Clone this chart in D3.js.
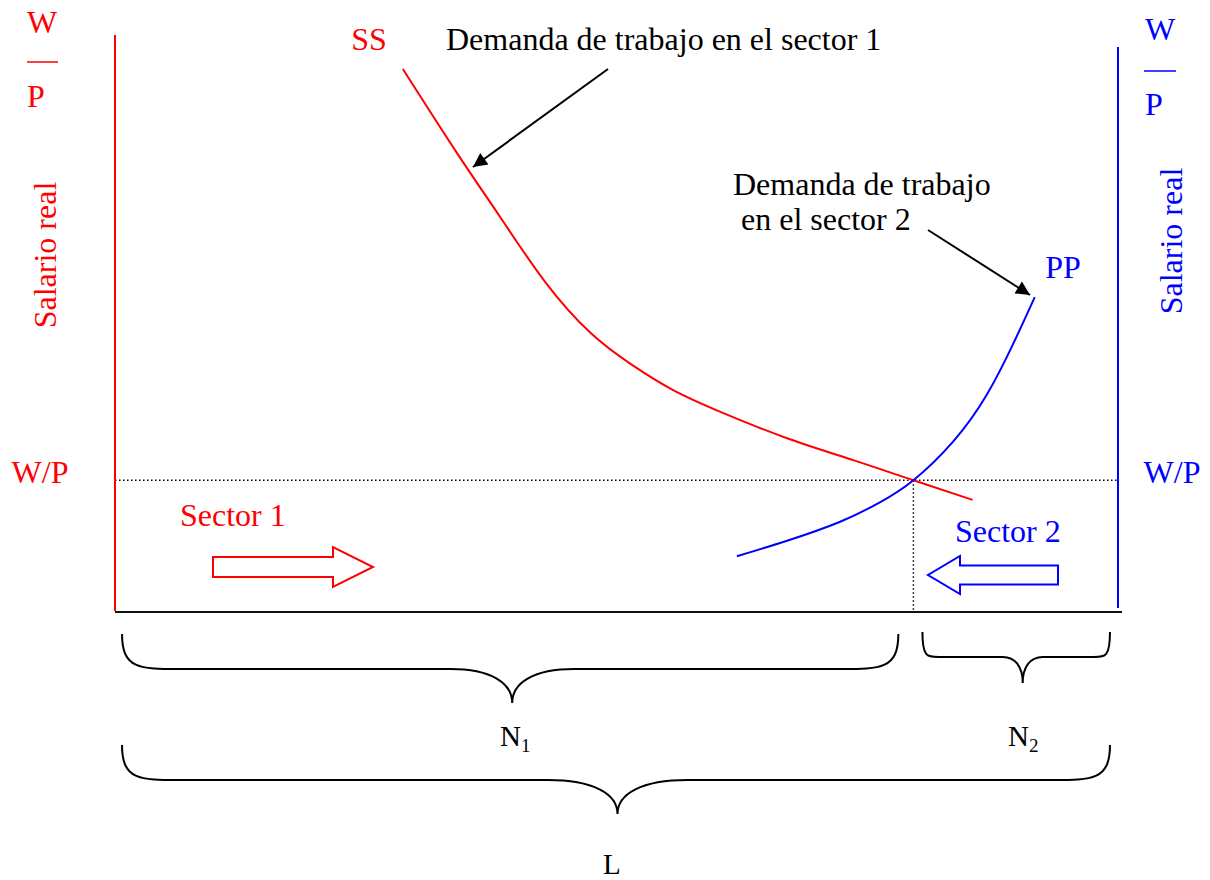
<!DOCTYPE html>
<html>
<head>
<meta charset="utf-8">
<script src="https://cdn.jsdelivr.net/npm/d3@7"></script>
<style>
  body { margin: 0; background: #fff; }
  svg text { font-family: "Liberation Serif", "Times New Roman", serif; }
</style>
</head>
<body>
<div id="chart"></div>
<script>
// Labour units on x (0-100), real wage on y (0-100)
const ssX = [28.7, 34.1, 38.4, 42.9, 47.4, 51.4, 55.6, 60.6, 67.0, 73.6, 79.6, 85.5];
const ssY = [94.1, 79.5, 68.4, 57.1, 48.3, 42.9, 38.4, 34.4, 30.0, 26.2, 22.7, 19.3];
const ppX = [62.0, 67.0, 72.3, 76.3, 79.6, 83.6, 86.9, 89.5, 91.7];
const ppY = [9.5, 12.2, 15.5, 18.9, 22.7, 29.5, 37.5, 46.2, 54.5];
const eqWage = 22.7;
const eqN1 = 79.6;
const braceNames = ['N1', 'N2', 'L'];
const braceFrom = [0.7, 80.5, 0.7];
const braceTo = [78.1, 99.2, 99.2];
const braceTip = [39.6, 90.5, 50.1];

const width = 1210, height = 880;
const red = '#ff0000', blue = '#0000ff';
const fontSize = 32;

const svg = d3.select('#chart').append('svg')
    .attr('width', width)
    .attr('height', height);

const x = d3.scaleLinear().domain([0, 100]).range([115, 1118]);
const y = d3.scaleLinear().domain([0, 100]).range([611, 35]);

// arrow marker for the annotations
svg.append('defs').append('marker')
    .attr('id', 'head')
    .attr('markerUnits', 'userSpaceOnUse')
    .attr('viewBox', '0 0 10 10')
    .attr('refX', 10).attr('refY', 5)
    .attr('markerWidth', 17).attr('markerHeight', 14)
    .attr('orient', 'auto')
    .append('path')
    .attr('d', 'M0,0 L10,5 L0,10 Z')
    .attr('fill', '#000');

// dotted equilibrium lines
svg.append('line')
    .attr('x1', x(0)).attr('x2', x(100))
    .attr('y1', y(eqWage)).attr('y2', y(eqWage))
    .attr('stroke', '#000').attr('stroke-width', 1.5)
    .attr('stroke-dasharray', '1.5,2.5');
svg.append('line')
    .attr('x1', x(eqN1)).attr('x2', x(eqN1))
    .attr('y1', y(eqWage)).attr('y2', y(0))
    .attr('stroke', '#000').attr('stroke-width', 1.5)
    .attr('stroke-dasharray', '1.5,2.5');

// axes
svg.append('line')
    .attr('x1', x(0)).attr('x2', x(0))
    .attr('y1', y(100)).attr('y2', y(0))
    .attr('stroke', red).attr('stroke-width', 2);
svg.append('line')
    .attr('x1', x(100)).attr('x2', x(100))
    .attr('y1', 47).attr('y2', 608)
    .attr('stroke', blue).attr('stroke-width', 2);
svg.append('line')
    .attr('x1', x(0)).attr('x2', x(100) + 4)
    .attr('y1', y(0) + 1).attr('y2', y(0) + 1)
    .attr('stroke', '#111').attr('stroke-width', 2);

// curves
const line = d3.line()
    .x(d => x(d[0]))
    .y(d => y(d[1]))
    .curve(d3.curveNatural);

svg.append('path')
    .datum(ssX.map((v, i) => [v, ssY[i]]))
    .attr('fill', 'none')
    .attr('stroke', red)
    .attr('stroke-width', 2)
    .attr('d', line);

svg.append('path')
    .datum(ppX.map((v, i) => [v, ppY[i]]))
    .attr('fill', 'none')
    .attr('stroke', blue)
    .attr('stroke-width', 2)
    .attr('d', line);

// text helper
function label(tx, ty, str, color, anchor) {
    return svg.append('text')
        .attr('x', tx).attr('y', ty)
        .attr('fill', color)
        .attr('font-size', fontSize)
        .attr('text-anchor', anchor || 'start')
        .text(str);
}

// left axis labels
label(27, 33, 'W', red);
svg.append('line').attr('x1', 27).attr('x2', 58).attr('y1', 62).attr('y2', 62)
    .attr('stroke', red).attr('stroke-width', 1.5);
label(27, 107, 'P', red);
label(0, 0, 'Salario real', red, 'middle')
    .attr('x', null).attr('y', null)
    .attr('transform', 'translate(56,255) rotate(-90)');
label(40, 483, 'W/P', red, 'middle');

// right axis labels
label(1145, 40, 'W', blue);
svg.append('line').attr('x1', 1144).attr('x2', 1176).attr('y1', 71).attr('y2', 71)
    .attr('stroke', blue).attr('stroke-width', 1.5);
label(1145, 115, 'P', blue);
label(0, 0, 'Salario real', blue, 'middle')
    .attr('x', null).attr('y', null)
    .attr('transform', 'translate(1182,241) rotate(-90)');
label(1172, 483, 'W/P', blue, 'middle');

// curve names and annotations
label(369, 50, 'SS', red, 'middle');
label(446, 50, 'Demanda de trabajo en el sector 1', '#000');
label(1063, 278, 'PP', blue, 'middle');
label(733, 195, 'Demanda de trabajo', '#000');
label(741, 230, 'en el sector 2', '#000');

svg.append('line')
    .attr('x1', 608).attr('y1', 69).attr('x2', 473).attr('y2', 167)
    .attr('stroke', '#000').attr('stroke-width', 2)
    .attr('marker-end', 'url(#head)');
svg.append('line')
    .attr('x1', 928).attr('y1', 230).attr('x2', 1030).attr('y2', 295)
    .attr('stroke', '#000').attr('stroke-width', 2)
    .attr('marker-end', 'url(#head)');

// sector labels with hollow block arrows
label(180, 526, 'Sector 1', red);
label(955, 542, 'Sector 2', blue);

function blockArrow(x0, x1, cy, bodyH, headH, headL, color) {
    const dir = x1 > x0 ? 1 : -1;
    const hb = x1 - dir * headL;
    const pts = [
        [x0, cy - bodyH / 2], [hb, cy - bodyH / 2], [hb, cy - headH / 2],
        [x1, cy], [hb, cy + headH / 2], [hb, cy + bodyH / 2], [x0, cy + bodyH / 2]
    ];
    svg.append('path')
        .attr('d', 'M' + pts.map(p => p.join(',')).join('L') + 'Z')
        .attr('fill', '#fff')
        .attr('stroke', color)
        .attr('stroke-width', 2);
}
blockArrow(213, 373, 567, 20, 40, 40, red);
blockArrow(1058, 928, 575, 19, 38, 32, blue);

// braces
const braceTop = [634, 632, 745];
const braceMid = [669, 657, 780];
const braceBot = [703, 683, 814];
const braceCurl = [58, 16, 58];
const braceInner = [62, 20, 70];

braceNames.forEach((name, i) => {
    const a = x(braceFrom[i]), b = x(braceTo[i]), t = x(braceTip[i]);
    const top = braceTop[i], mid = braceMid[i], bot = braceBot[i];
    const c = braceCurl[i], n = braceInner[i];
    const p = d3.path();
    p.moveTo(a, top);
    p.bezierCurveTo(a, mid, a + c * 0.3, mid, a + c, mid);
    p.lineTo(t - n, mid);
    p.bezierCurveTo(t - n * 0.35, mid, t, mid + (bot - mid) * 0.4, t, bot);
    p.bezierCurveTo(t, mid + (bot - mid) * 0.4, t + n * 0.35, mid, t + n, mid);
    p.lineTo(b - c, mid);
    p.bezierCurveTo(b - c * 0.3, mid, b, mid, b, top);
    svg.append('path')
        .attr('d', p.toString())
        .attr('fill', 'none')
        .attr('stroke', '#000')
        .attr('stroke-width', 2);
});

// brace labels
function subLabel(tx, ty, main, sub) {
    const t = svg.append('text')
        .attr('x', tx).attr('y', ty)
        .attr('fill', '#000')
        .attr('font-size', 29);
    t.append('tspan').text(main);
    if (sub) {
        t.append('tspan').attr('font-size', 19).attr('dy', 6).text(sub);
    }
}
subLabel(500, 746, 'N', '1');
subLabel(1008, 746, 'N', '2');
subLabel(603, 874, 'L');
</script>
</body>
</html>
